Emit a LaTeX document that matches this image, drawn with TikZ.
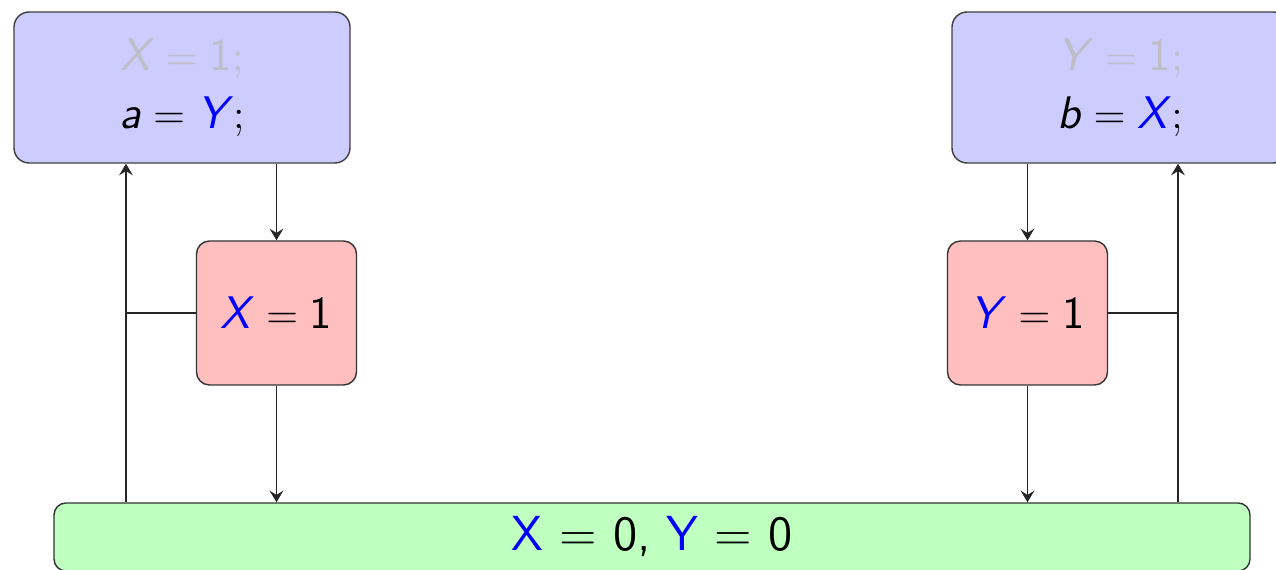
\documentclass[tikz,border=0pt]{standalone}
\usepackage{amsmath,amssymb}
\usepackage{xcolor}
\usepackage{tikz}
\usetikzlibrary{positioning,arrows.meta,calc}
\definecolor{ThreadBlue}{HTML}{CCCCFF}
\definecolor{StoreRed}{HTML}{FFBFBF}
\definecolor{MemGreen}{HTML}{BFFFBF}
\definecolor{FadedGray}{HTML}{BEBEC6}
\newcommand{\sv}[1]{\text{\itshape #1\/}}
\tikzset{
  threadbox/.style={draw=black!75, fill=ThreadBlue, rounded corners=4.3pt,
    minimum width=3.36cm, minimum height=1.51cm, align=center,
    font=\sffamily\fontsize{13}{16.5}\selectfont},
  storebox/.style={draw=black!80, fill=StoreRed, rounded corners=3.7pt,
    minimum width=1.6cm, minimum height=1.44cm,
    font=\sffamily\fontsize{13}{16}\selectfont},
  membox/.style={draw=black!80, fill=MemGreen, rounded corners=3.4pt,
    minimum width=11.96cm, minimum height=0.68cm,
    font=\sffamily\fontsize{14}{16}\selectfont},
  flow/.style={draw=black!85, -{Stealth[length=3.3pt,width=3.9pt,inset=1.2pt]}}
}
\begin{document}
\begin{tikzpicture}
  \useasboundingbox (0,0) rectangle (12.76,-5.70);
  % threads
  \node[threadbox] (threadA) at (1.82,-0.875) {%
    {\color{FadedGray}$\sv{X} = \text{1};$}\\
    $\sv{a} = \textcolor{blue}{\sv{Y}};$};
  \node[threadbox] (threadB) at (11.20,-0.875) {%
    {\color{FadedGray}$\sv{Y} = \text{1};$}\\
    $\sv{b} = \textcolor{blue}{\sv{X}};$};
  % store buffers
  \node[storebox] (storeA) at (2.765,-3.13) {$\textcolor{blue}{\sv{X}} = \text{1}$};
  \node[storebox] (storeB) at (10.275,-3.13) {$\textcolor{blue}{\sv{Y}} = \text{1}$};
  % memory
  \node[membox] (memory) at (6.52,-5.37) {%
    {\color{blue}X} = 0, {\color{blue}Y} = 0};
  \coordinate (tapA) at (1.26,-3.13);
  \coordinate (tapB) at (11.78,-3.13);
  % connectors
  \draw[flow] (threadA.south -| storeA.north) -- (storeA.north);
  \draw[flow] (storeA.south) -- (storeA.south |- memory.north);
  \draw[flow] (tapA |- memory.north) -- (tapA |- threadA.south);
  \draw[draw=black!85] (storeA.west) -- (tapA);
  \draw[flow] (threadB.south -| storeB.north) -- (storeB.north);
  \draw[flow] (storeB.south) -- (storeB.south |- memory.north);
  \draw[flow] (tapB |- memory.north) -- (tapB |- threadB.south);
  \draw[draw=black!85] (storeB.east) -- (tapB);
\end{tikzpicture}
\end{document}
